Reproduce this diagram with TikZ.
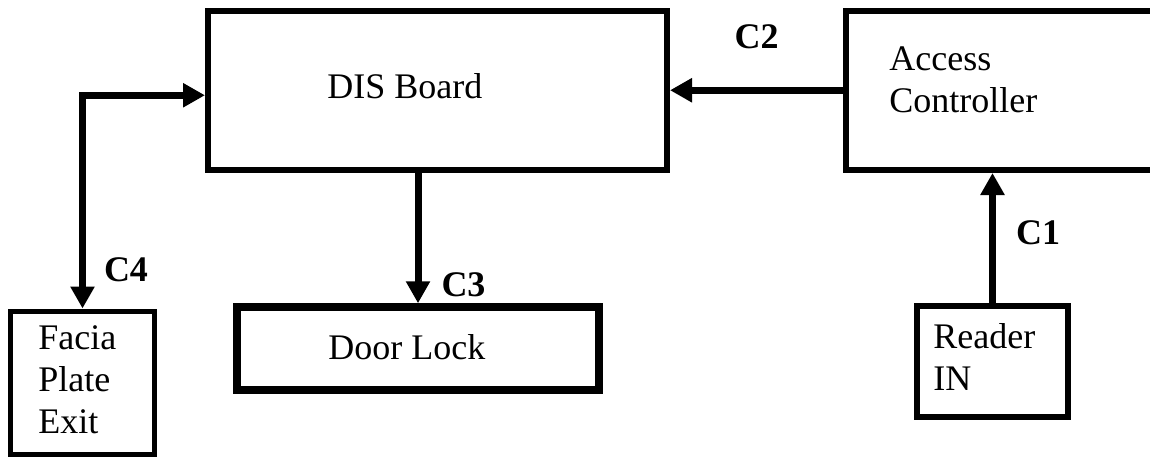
\documentclass[tikz,border=0pt]{standalone}
\usepackage{fontspec}
\setmainfont{Liberation Serif}
\usetikzlibrary{arrows.meta}
\tikzset{
  blk/.style={rectangle, draw=black, line width=3pt, inner sep=0pt},
  txt/.style={align=left, font=\fontsize{18}{21}\selectfont, inner sep=0pt, anchor=base west},
  lbl/.style={font=\fontsize{18}{21}\selectfont\bfseries, inner sep=0pt},
  arrow/.style={-{Triangle[length=11pt, width=11.5pt]}, line width=3.5pt},
  dblarrow/.style={{Triangle[length=11pt, width=11.5pt]}-{Triangle[length=11pt, width=11.5pt]}, line width=3.5pt},
}
\begin{document}
\begin{tikzpicture}[x=0.5pt, y=-0.5pt]
  \clip (0,0) rectangle (1150,457);
  % blocks
  \node[blk, minimum width=229.5pt, minimum height=79.75pt] (dis) at (437.5,90.25) {};
  \node[blk, minimum width=157pt, minimum height=79.75pt] (ac) at (1003,90.25) {};
  \node[blk, line width=2.75pt, minimum width=75.5pt, minimum height=55.5pt] (reader) at (992.5,361.5) {};
  \node[blk, line width=3.75pt, minimum width=181pt, minimum height=41.5pt] (lock) at (418,348.5) {};
  \node[blk, line width=2.5pt, minimum width=72pt, minimum height=71.5pt] (facia) at (82.5,382.5) {};
  % texts (base = last line)
  \node[txt] (dis-t) at (327,98) {DIS Board};
  \node[txt] (ac-t) at (889,112) {Access\\Controller};
  \node[txt] (reader-t) at (933,390) {Reader\\IN};
  \node[txt] (lock-t) at (328,359) {Door Lock};
  \node[txt] (facia-t) at (38,433) {Facia\\Plate\\Exit};
  % connections
  \draw[arrow] (reader.north) -- node[lbl, pos=0.54, right=10pt]{C1} (reader.north |- ac.south);
  \draw[arrow] (ac.west) -- node[lbl, above=19pt]{C2} (dis.east);
  \draw[arrow] (lock.north |- dis.south) -- node[lbl, pos=0.86, right=10pt]{C3} (lock.north);
  \draw[dblarrow] (facia.north) |- node[lbl, pos=0.09, right=9pt]{C4} ([yshift=-2.5pt]dis.west);
\end{tikzpicture}
\end{document}
